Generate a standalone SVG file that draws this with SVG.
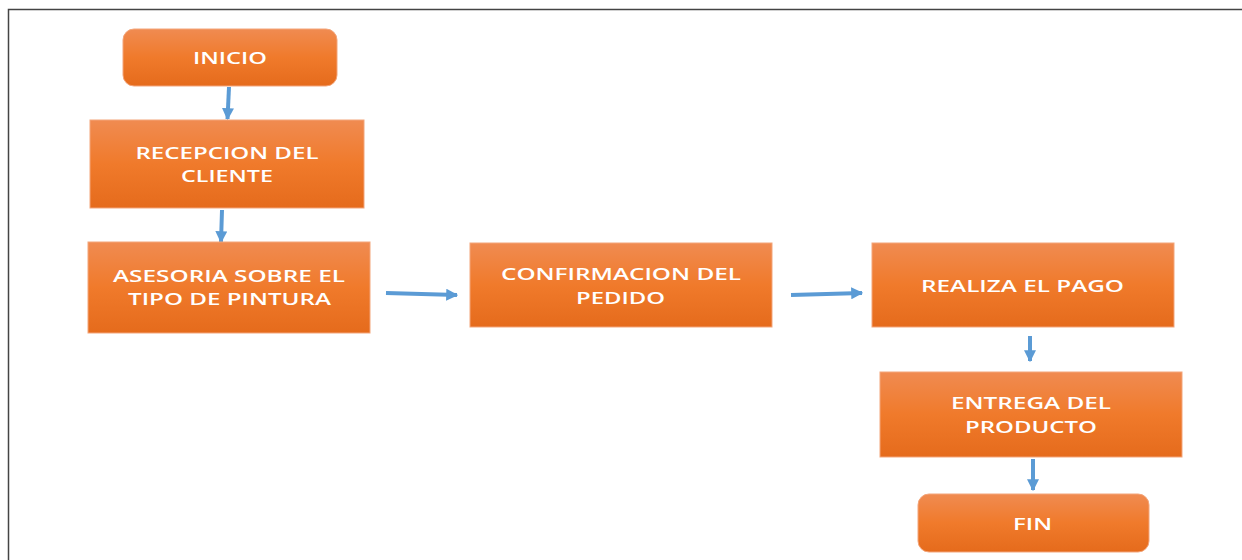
<svg xmlns="http://www.w3.org/2000/svg" width="1242" height="560" viewBox="0 0 1242 560">
<defs>
<linearGradient id="og" x1="0" y1="0" x2="0" y2="1">
<stop offset="0" stop-color="#F08B51"/>
<stop offset="0.5" stop-color="#F07A2B"/>
<stop offset="1" stop-color="#E56B1C"/>
</linearGradient>
<marker id="ah" viewBox="0 0 10 10" refX="9" refY="5" markerWidth="3" markerHeight="3" orient="auto" markerUnits="strokeWidth">
<path d="M0,0 L10,5 L0,10 Z" fill="#5B9BD5"/>
</marker>
<style>
.box{fill:url(#og);stroke:#F3A57A;stroke-width:1}
.t{font-family:"Open Sans","Liberation Sans",sans-serif;font-weight:600;font-size:17px;fill:#FFFFFF;text-anchor:middle}
.c{stroke:#5B9BD5;stroke-width:4;fill:none;marker-end:url(#ah)}
</style>
</defs>
<rect width="1242" height="560" fill="#FFFFFF"/>
<path d="M8.5,560 V9.5 H1242" fill="none" stroke="#444" stroke-width="1.5"/>
<g id="connectors">
<line class="c" x1="229" y1="87" x2="227.5" y2="119"/>
<line class="c" x1="222" y1="210" x2="221" y2="242"/>
<line class="c" x1="386" y1="293" x2="457" y2="295"/>
<line class="c" x1="791" y1="295" x2="862" y2="293"/>
<line class="c" x1="1030" y1="336" x2="1030" y2="361"/>
<line class="c" x1="1033" y1="459" x2="1033" y2="490"/>
</g>
<g id="inicio">
<rect class="box" x="123" y="29" width="214" height="57" rx="11"/>
<text class="t" x="230" y="64" textLength="74" lengthAdjust="spacingAndGlyphs">INICIO</text>
</g>
<g id="recepcion">
<rect class="box" x="90" y="120" width="274" height="88"/>
<text class="t" x="227" y="159" textLength="183" lengthAdjust="spacingAndGlyphs">RECEPCION DEL</text>
<text class="t" x="227" y="182" textLength="92" lengthAdjust="spacingAndGlyphs">CLIENTE</text>
</g>
<g id="asesoria">
<rect class="box" x="88" y="242" width="282" height="91"/>
<text class="t" x="229" y="282" textLength="232" lengthAdjust="spacingAndGlyphs">ASESORIA SOBRE EL</text>
<text class="t" x="229.5" y="305" textLength="203" lengthAdjust="spacingAndGlyphs">TIPO DE PINTURA</text>
</g>
<g id="confirmacion">
<rect class="box" x="470" y="243" width="302" height="84"/>
<text class="t" x="621" y="280" textLength="240" lengthAdjust="spacingAndGlyphs">CONFIRMACION DEL</text>
<text class="t" x="620.5" y="304" textLength="89" lengthAdjust="spacingAndGlyphs">PEDIDO</text>
</g>
<g id="realiza">
<rect class="box" x="872" y="243" width="302" height="84"/>
<text class="t" x="1022.5" y="292" textLength="203" lengthAdjust="spacingAndGlyphs">REALIZA EL PAGO</text>
</g>
<g id="entrega">
<rect class="box" x="880" y="372" width="302" height="85"/>
<text class="t" x="1031" y="409" textLength="160" lengthAdjust="spacingAndGlyphs">ENTREGA DEL</text>
<text class="t" x="1031" y="433" textLength="132" lengthAdjust="spacingAndGlyphs">PRODUCTO</text>
</g>
<g id="fin">
<rect class="box" x="918" y="494" width="231" height="58" rx="11"/>
<text class="t" x="1032.5" y="530" textLength="39" lengthAdjust="spacingAndGlyphs">FIN</text>
</g>
</svg>
